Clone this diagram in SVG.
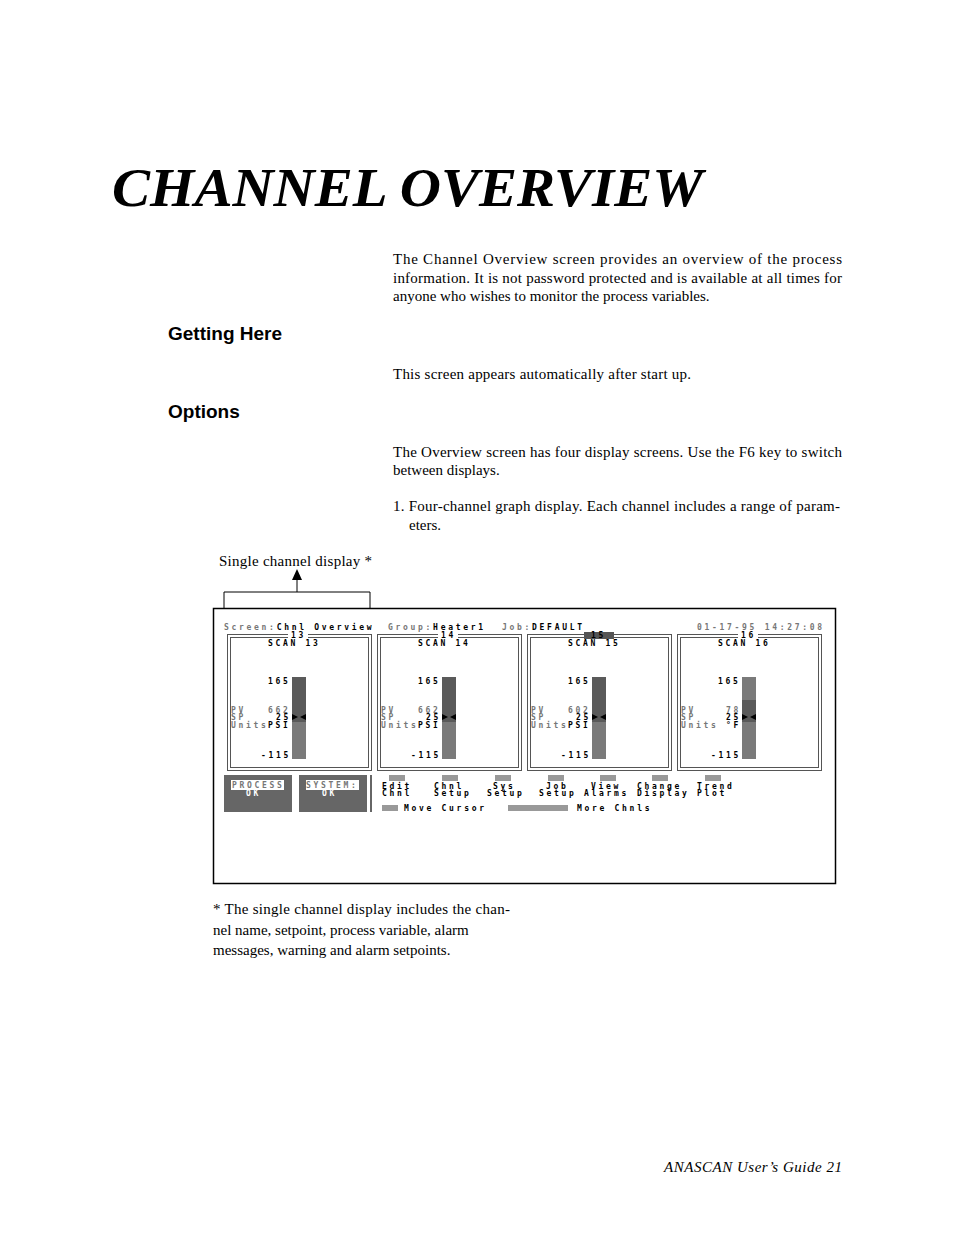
<svg xmlns="http://www.w3.org/2000/svg" width="954" height="1235" viewBox="0 0 954 1235">
<style>
.s{font-family:"Liberation Serif",serif;font-size:15px;fill:#000}
.h{font-family:"Liberation Sans",Arial,sans-serif;font-size:19px;font-weight:bold}
.m{font-family:"DejaVu Sans Mono","Liberation Mono",monospace;font-size:8px;letter-spacing:2.7px;font-weight:bold;fill:#000}
.g{fill:#777}
.fk{fill:#999}
.pf{fill:none;stroke:#555;stroke-width:1}
</style>
<rect width="954" height="1235" fill="#fff"/>
<text x="112" y="206" font-family="Liberation Serif,serif" font-size="55" font-weight="bold" font-style="italic" textLength="591" lengthAdjust="spacingAndGlyphs">CHANNEL OVERVIEW</text>
<text class="s" x="393" y="264" textLength="449">The Channel Overview screen provides an overview of the process</text>
<text class="s" x="393" y="283" textLength="449">information. It is not password protected and is available at all times for</text>
<text class="s" x="393" y="301">anyone who wishes to monitor the process variables.</text>
<text class="h" x="168" y="340">Getting Here</text>
<text class="s" x="393" y="379" textLength="298">This screen appears automatically after start up.</text>
<text class="h" x="168" y="418">Options</text>
<text class="s" x="393" y="457" textLength="449">The Overview screen has four display screens. Use the F6 key to switch</text>
<text class="s" x="393" y="475">between displays.</text>
<text class="s" x="393" y="511" textLength="447">1. Four-channel graph display. Each channel includes a range of param-</text>
<text class="s" x="409" y="530">eters.</text>
<text class="s" x="219" y="566" textLength="153">Single channel display *</text>
<g id="connectors">
<path d="M224,608 V592 H370 V608" fill="none" stroke="#000" stroke-width="1"/>
<line x1="297" y1="592" x2="297" y2="577" stroke="#000" stroke-width="1"/>
<polygon points="292,580 302,580 297,569" fill="#000"/>
</g>
<g id="screen">
<rect x="213.5" y="608.5" width="622" height="275" fill="#fff" stroke="#000" stroke-width="1.5"/>
<text class="m" y="630"><tspan x="224" class="g">Screen:</tspan><tspan>Chnl Overview</tspan><tspan x="388" class="g">Group:</tspan><tspan>Heater1</tspan><tspan x="502" class="g">Job:</tspan><tspan>DEFAULT</tspan><tspan x="697" class="g">01-17-95 14:27:08</tspan></text>
<g id="panel13">
<rect x="227.5" y="634.5" width="144" height="136" class="pf"/><rect x="230.5" y="637.5" width="138" height="130" class="pf"/>
<rect x="288" y="632" width="20" height="6" fill="#fff"/>
<text class="m" x="291" y="638">13</text>
<text class="m" x="268" y="646">SCAN 13</text>
<rect x="292" y="677" width="14" height="45" fill="#5a5a5a"/><rect x="292" y="722" width="14" height="37" fill="#7a7a7a"/>
<text class="m" x="268" y="684">165</text>
<text class="m g" x="231" y="713">PV</text><text class="m g" x="268" y="713">662</text>
<text class="m g" x="231" y="720">SP</text><text class="m" x="276" y="720">25</text>
<polygon points="292,714 298,717 292,720" fill="#000"/><polygon points="306,714 300,717 306,720" fill="#000"/>
<text class="m g" x="231" y="728">Units</text><text class="m" x="268" y="728">PSI</text>
<text class="m" x="261" y="758">-115</text>
</g>
<g id="panel14" transform="translate(150,0)">
<rect x="227.5" y="634.5" width="144" height="136" class="pf"/><rect x="230.5" y="637.5" width="138" height="130" class="pf"/>
<rect x="288" y="632" width="20" height="6" fill="#fff"/>
<text class="m" x="291" y="638">14</text>
<text class="m" x="268" y="646">SCAN 14</text>
<rect x="292" y="677" width="14" height="45" fill="#5a5a5a"/><rect x="292" y="722" width="14" height="37" fill="#7a7a7a"/>
<text class="m" x="268" y="684">165</text>
<text class="m g" x="231" y="713">PV</text><text class="m g" x="268" y="713">662</text>
<text class="m g" x="231" y="720">SP</text><text class="m" x="276" y="720">25</text>
<polygon points="292,714 298,717 292,720" fill="#000"/><polygon points="306,714 300,717 306,720" fill="#000"/>
<text class="m g" x="231" y="728">Units</text><text class="m" x="268" y="728">PSI</text>
<text class="m" x="261" y="758">-115</text>
</g>
<g id="panel15" transform="translate(300,0)">
<rect x="227.5" y="634.5" width="144" height="136" class="pf"/><rect x="230.5" y="637.5" width="138" height="130" class="pf"/>
<rect x="284" y="632" width="30" height="7" fill="#555"/>
<text class="m" x="291" y="638">15</text>
<text class="m" x="268" y="646">SCAN 15</text>
<rect x="292" y="677" width="14" height="45" fill="#5a5a5a"/><rect x="292" y="722" width="14" height="37" fill="#7a7a7a"/>
<text class="m" x="268" y="684">165</text>
<text class="m g" x="231" y="713">PV</text><text class="m g" x="268" y="713">602</text>
<text class="m g" x="231" y="720">SP</text><text class="m" x="276" y="720">25</text>
<polygon points="292,714 298,717 292,720" fill="#000"/><polygon points="306,714 300,717 306,720" fill="#000"/>
<text class="m g" x="231" y="728">Units</text><text class="m" x="268" y="728">PSI</text>
<text class="m" x="261" y="758">-115</text>
</g>
<g id="panel16" transform="translate(450,0)">
<rect x="227.5" y="634.5" width="144" height="136" class="pf"/><rect x="230.5" y="637.5" width="138" height="130" class="pf"/>
<rect x="288" y="632" width="20" height="6" fill="#fff"/>
<text class="m" x="291" y="638">16</text>
<text class="m" x="268" y="646">SCAN 16</text>
<rect x="292" y="677" width="14" height="23" fill="#7a7a7a"/><rect x="292" y="700" width="14" height="22" fill="#5a5a5a"/><rect x="292" y="722" width="14" height="37" fill="#7a7a7a"/>
<text class="m" x="268" y="684">165</text>
<text class="m g" x="231" y="713">PV</text><text class="m g" x="276" y="713">78</text>
<text class="m g" x="231" y="720">SP</text><text class="m" x="276" y="720">25</text>
<polygon points="292,714 298,717 292,720" fill="#000"/><polygon points="306,714 300,717 306,720" fill="#000"/>
<text class="m g" x="231" y="728">Units</text><text class="m" x="276" y="728">°F</text>
<text class="m" x="261" y="758">-115</text>
</g>
<g id="status">
<rect x="224" y="775" width="68" height="37" fill="#666"/><rect x="231" y="780" width="53" height="10" fill="#fff"/>
<text class="m g" x="232" y="788">PROCESS</text><text class="m" x="246" y="796" style="fill:#fff">OK</text>
<rect x="299" y="775" width="68" height="37" fill="#666"/><rect x="306" y="780" width="53" height="10" fill="#fff"/>
<text class="m g" x="306" y="788">SYSTEM:</text><text class="m" x="322" y="796" style="fill:#fff">OK</text>
<rect x="370" y="775" width="2" height="37" fill="#666"/>
</g>
<g id="fkeys">
<rect x="389" y="775" width="16" height="6" class="fk"/><rect x="442" y="775" width="16" height="6" class="fk"/><rect x="495" y="775" width="16" height="6" class="fk"/><rect x="548" y="775" width="16" height="6" class="fk"/><rect x="600" y="775" width="16" height="6" class="fk"/><rect x="652" y="775" width="16" height="6" class="fk"/><rect x="705" y="775" width="16" height="6" class="fk"/>
<text class="m" x="382" y="789">Edit</text><text class="m" x="382" y="796">Chnl</text>
<text class="m" x="434" y="789">Chnl</text><text class="m" x="434" y="796">Setup</text>
<text class="m" x="493" y="789">Sys</text><text class="m" x="487" y="796">Setup</text>
<text class="m" x="546" y="789">Job</text><text class="m" x="539" y="796">Setup</text>
<text class="m" x="591" y="789">View</text><text class="m" x="584" y="796">Alarms</text>
<text class="m" x="637" y="789">Change</text><text class="m" x="637" y="796">Display</text>
<text class="m" x="697" y="789">Trend</text><text class="m" x="697" y="796">Plot</text>
<rect x="382" y="805" width="16" height="6" class="fk"/>
<text class="m" x="404" y="811">Move Cursor</text>
<rect x="508" y="805" width="60" height="6" class="fk"/>
<text class="m" x="577" y="811">More Chnls</text>
</g>
</g>
<text class="s" x="213" y="914" textLength="297">*  The single channel display includes the chan-</text>
<text class="s" x="213" y="935">nel name, setpoint, process variable, alarm</text>
<text class="s" x="213" y="955">messages, warning and alarm setpoints.</text>
<text class="s" x="664" y="1172" font-style="italic" textLength="178">ANASCAN User’s Guide  21</text>
</svg>
